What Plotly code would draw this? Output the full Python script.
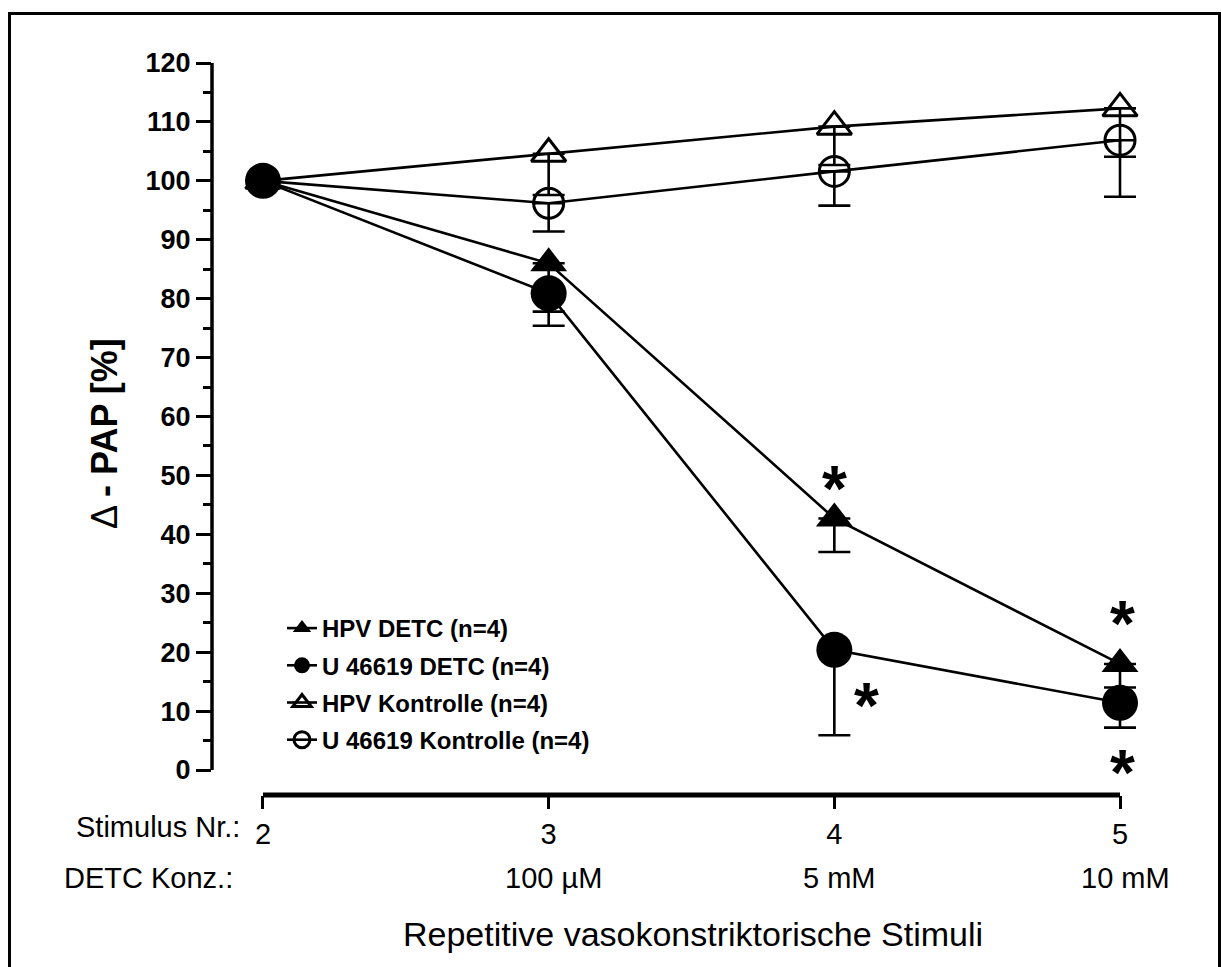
import plotly.graph_objects as go

# ---------------- data ----------------
stimulus = [2, 3, 4, 5]
stim_labels = ["2", "3", "4", "5"]
detc_conc_x = [3, 4, 5]
detc_conc_labels = ["100 µM", "5 mM", "10 mM"]

hpv_detc = [100, 86.0, 42.7, 18.0]
hpv_detc_err = [0, 8.2, 5.7, 4.0]

u466_detc = [100, 80.9, 20.4, 11.4]
u466_detc_err = [0, 5.5, 14.5, 4.2]

hpv_ktrl = [100, 104.6, 109.2, 112.3]
hpv_ktrl_err = [0, 7.0, 6.5, 8.2]

u466_ktrl = [100, 96.2, 101.6, 106.9]
u466_ktrl_err = [0, 4.8, 5.8, 9.6]

star_x = [4.0, 4.112, 5.01, 5.01]
star_y = [49.2, 12.4, 26.3, 1.0]

y_ticks = list(range(0, 121, 10))
y_min_axis, y_max_axis = 0, 120

# ---------------- layout geometry ----------------
W, H = 1221, 967
L, R, T, B = 212, 44, 57, 172
PW, PH = W - L - R, H - T - B


def px_x(p):
    return (p - L) / PW


def px_y(p):
    return (H - B - p) / PH


FONT = "Liberation Sans, Arial, sans-serif"

fig = go.Figure()


def add(name, y, err, symbol, size, rank, lw_marker=0):
    fig.add_trace(go.Scatter(
        x=stimulus, y=y, name=f"<b>{name}</b>", mode="lines+markers",
        legendrank=rank, legendgroup=f"g{rank}",
        line=dict(color="black", width=2.6),
        marker=dict(symbol=symbol, size=size, color="black",
                    line=dict(color="black", width=lw_marker)),
        error_y=dict(type="data", symmetric=False, array=[0] * len(err),
                     arrayminus=err, color="black", thickness=2.6, width=16),
    ))


add("HPV Kontrolle (n=4)", hpv_ktrl, hpv_ktrl_err, "triangle-up-open", 30, 3, 3)
add("U 46619 Kontrolle (n=4)", u466_ktrl, u466_ktrl_err, "circle-open", 30, 4, 3)
add("HPV DETC (n=4)", hpv_detc, hpv_detc_err, "triangle-up", 32, 1)
add("U 46619 DETC (n=4)", u466_detc, u466_detc_err, "circle", 36, 2)

ann = []
# asterisks
STAR_FS = 64
for sx, sy in zip(star_x, star_y):
    ann.append(dict(x=sx, y=sy, xref="x", yref="y", text="<b>*</b>", showarrow=False,
                    font=dict(family=FONT, size=STAR_FS, color="black"),
                    xanchor="center", yanchor="middle", yshift=-0.3 * STAR_FS + 10))

# x rows
ann.append(dict(x=px_x(242), y=px_y(827), xref="paper", yref="paper",
                text="Stimulus Nr.:", showarrow=False, xanchor="right", yanchor="middle",
                font=dict(family=FONT, size=29, color="black")))
ann.append(dict(x=px_x(62), y=px_y(878), xref="paper", yref="paper",
                text="DETC Konz.:", showarrow=False, xanchor="left", yanchor="middle",
                font=dict(family=FONT, size=29, color="black")))
for cx, ct in zip(detc_conc_x, detc_conc_labels):
    ann.append(dict(x=cx, y=px_y(878), xref="x", yref="paper", text=ct,
                    showarrow=False, xanchor="center", yanchor="middle", xshift=5,
                    font=dict(family=FONT, size=29, color="black")))
ann.append(dict(x=px_x(693), y=px_y(934), xref="paper", yref="paper",
                text="Repetitive vasokonstriktorische Stimuli", showarrow=False,
                xanchor="center", yanchor="middle",
                font=dict(family=FONT, size=34, color="black")))
# y title
ann.append(dict(x=px_x(104), y=px_y(434), xref="paper", yref="paper",
                text="Δ <b>- PAP [%]</b>", textangle=-90, showarrow=False,
                xanchor="center", yanchor="middle",
                font=dict(family=FONT, size=36, color="black")))

shapes = [
    # y axis line
    dict(type="line", xref="paper", yref="y", x0=0, x1=0, y0=y_min_axis, y1=y_max_axis,
         line=dict(color="black", width=3.5)),
    # x axis line
    dict(type="line", xref="x", yref="paper", x0=stimulus[0], x1=stimulus[-1], y0=0, y1=0,
         line=dict(color="black", width=5)),
    # outer frame
    dict(type="rect", xref="paper", yref="paper", x0=px_x(9.5), x1=px_x(1219.5),
         y0=px_y(985), y1=px_y(13.5), line=dict(color="black", width=3),
         fillcolor="rgba(0,0,0,0)"),
]

fig.update_layout(
    width=W, height=H,
    margin=dict(l=L, r=R, t=T, b=B, pad=0),
    paper_bgcolor="white", plot_bgcolor="white",
    showlegend=True,
    legend=dict(x=px_x(282), y=px_y(606), xanchor="left", yanchor="top",
                bgcolor="rgba(0,0,0,0)", borderwidth=0,
                font=dict(family=FONT, size=24, color="black"),
                tracegroupgap=3, traceorder="grouped"),
    xaxis=dict(range=[1.8215, 5.1995], showgrid=False, zeroline=False, showline=False,
               tickmode="array", tickvals=stimulus, ticktext=stim_labels,
               ticks="outside", ticklen=13, tickwidth=3, tickcolor="black",
               tickfont=dict(family=FONT, size=29, color="black")),
    yaxis=dict(range=[-4.243, 121.02], showgrid=False, zeroline=False, showline=False,
               tickmode="array", tickvals=y_ticks,
               ticktext=[f"<b>{v}</b>" for v in y_ticks],
               ticks="outside", ticklen=15, tickwidth=3, tickcolor="black",
               tickfont=dict(family=FONT, size=27, color="black"),
               minor=dict(tickmode="linear", tick0=5, dtick=10, ticks="outside",
                          ticklen=8, tickwidth=3, tickcolor="black")),
    annotations=ann,
    shapes=shapes,
)

fig.write_html("out.html")
